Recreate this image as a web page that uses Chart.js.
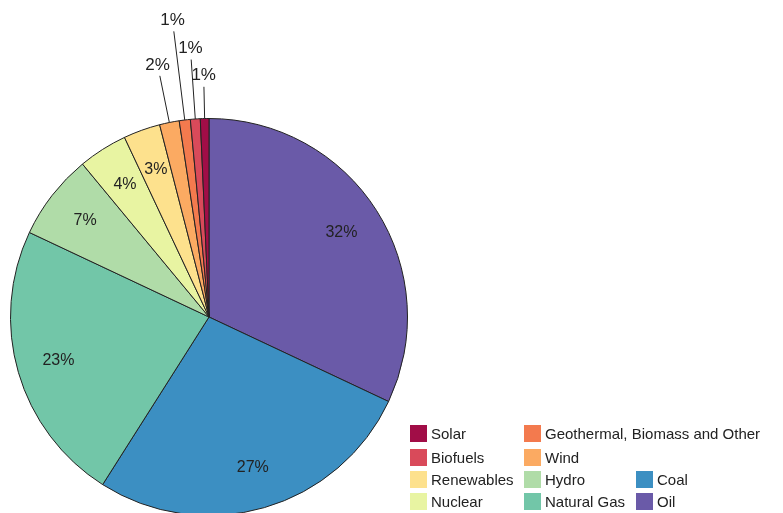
<!DOCTYPE html>
<html>
<head>
<meta charset="utf-8">
<script src="https://cdn.jsdelivr.net/npm/chart.js@4/dist/chart.umd.min.js"></script>
<style>
  body { margin: 0; background: #fff; font-family: "Liberation Sans", Arial, sans-serif; }
  #wrap { position: relative; width: 783px; height: 513px; overflow: hidden; }
  #wrap canvas { position: absolute; left: 0; top: 0; }
  .leg { position: absolute; font-size: 15px; color: #222; display: flex; align-items: center; white-space: nowrap; }
  .leg i { display: inline-block; width: 17px; height: 17px; margin-right: 4px; }
</style>
</head>
<body>
<div id="wrap"><canvas id="pie" width="783" height="540"></canvas></div>
<script>
// slices clockwise from 12 o'clock
const labels = ["Oil", "Coal", "Natural Gas", "Hydro", "Nuclear", "Renewables", "Wind",
  "Geothermal, Biomass and Other", "Biofuels", "Solar"];
const values = [32, 27, 23, 7, 4, 3, 1.6, 0.9, 0.8, 0.7];
const shown = ["32%", "27%", "23%", "7%", "4%", "3%", "2%", "1%", "1%", "1%"];
const colors = ["#6a5aa8", "#3c8fc2", "#72c6a8", "#b0dca8", "#e8f4a2", "#fde18d",
  "#fbaa62", "#f37a4e", "#d94a5a", "#a10d47"];
// leader lengths for the slices labelled outside (radius multiples)
const leaderLen = [0, 0, 0, 0, 0, 0, 1.24, 1.45, 1.3, 1.16];

// legend layout: [label index, column, row]
const legendCells = [[9, 0, 0], [7, 1, 0], [8, 0, 1], [6, 1, 1], [5, 0, 2], [3, 1, 2],
  [1, 2, 2], [4, 0, 3], [2, 1, 3], [0, 2, 3]];
const legendCols = [410, 524, 636];
const legendRows = [425, 449, 471, 493];

const labelPlugin = {
  id: "sliceLabels",
  afterDatasetsDraw(chart) {
    const ctx = chart.ctx;
    const meta = chart.getDatasetMeta(0);
    ctx.save();
    ctx.fillStyle = "#222";
    ctx.strokeStyle = "#222";
    ctx.lineWidth = 1;
    ctx.textAlign = "center";
    ctx.textBaseline = "middle";
    meta.data.forEach((arc, i) => {
      const mid = (arc.startAngle + arc.endAngle) / 2;
      const R = arc.outerRadius;
      const cx = arc.x, cy = arc.y;
      if (!leaderLen[i]) {
        ctx.font = "16px 'Liberation Sans', Arial, sans-serif";
        const r = R * 0.79;
        ctx.fillText(shown[i], cx + Math.cos(mid) * r, cy + Math.sin(mid) * r);
      } else {
        ctx.font = "17px 'Liberation Sans', Arial, sans-serif";
        const r2 = R * leaderLen[i];
        const ex = cx + Math.cos(mid) * r2, ey = cy + Math.sin(mid) * r2;
        ctx.beginPath();
        ctx.moveTo(cx + Math.cos(mid) * R, cy + Math.sin(mid) * R);
        ctx.lineTo(ex, ey);
        ctx.stroke();
        ctx.fillText(shown[i], ex + Math.cos(mid) * 11, ey + Math.sin(mid) * 11);
      }
    });
    ctx.restore();
  }
};

new Chart(document.getElementById("pie"), {
  type: "pie",
  data: {
    labels,
    datasets: [{
      data: values,
      backgroundColor: colors,
      borderColor: "#222",
      borderWidth: 1,
    }]
  },
  options: {
    responsive: false,
    animation: false,
    layout: { padding: { left: 10, right: 375, top: 118, bottom: 24 } },
    plugins: { legend: { display: false }, tooltip: { enabled: false } }
  },
  plugins: [labelPlugin]
});

const wrap = document.getElementById("wrap");
legendCells.forEach(([i, c, r]) => {
  const el = document.createElement("div");
  el.className = "leg";
  el.style.left = legendCols[c] + "px";
  el.style.top = legendRows[r] + "px";
  el.innerHTML = `<i style="background:${colors[i]}"></i>`;
  el.appendChild(document.createTextNode(labels[i]));
  wrap.appendChild(el);
});
</script>
</body>
</html>
